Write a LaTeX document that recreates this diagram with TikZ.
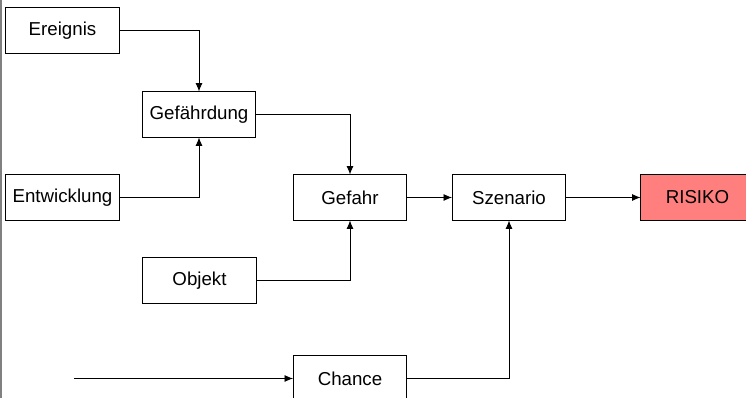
\documentclass[tikz,border=0pt]{standalone}
\usepackage{fontspec}
\setmainfont{Liberation Sans}
\usetikzlibrary{arrows.meta}
\definecolor{risikorot}{RGB}{255,127,127}

\begin{document}
\begin{tikzpicture}[x=0.025cm,y=-0.025cm,
	box/.style={draw,line width=0.7pt,minimum width=2.825cm,minimum height=1.125cm,inner sep=0pt,font=\fontsize{13.3}{15}\selectfont},
	fl/.style={draw,line width=0.6pt,-{Latex[length=6pt,width=5pt]}}]
	          %\draw[help lines] (0,0) grid (746,398);
	          \clip (0,0) rectangle (746,398);
	          \useasboundingbox (0,0) rectangle (746,398);
	          \draw[gray,line width=1pt] (1,0) -- (1,398);
	          \node[box] (Ereignis) at (62.5,30.5) {Ereignis};
	          \node[box] (Gefaehrdung) at (199,114.5) {Gefährdung};
	          \node[box] (Entwicklung) at (62.5,197.5) {Entwicklung};
	          \node[box] (Gefahr) at (350,197.5) {Gefahr};
	          \node[box] (Szenario) at (509,197.5) {Szenario};
	          \node[box,fill=risikorot] (Risiko) at (697.5,197.5) {RISIKO};
	          \node[box] (Objekt) at (199.5,280.5) {Objekt};
	          \node[box] (Chance) at (350,378.5) {Chance};
	          \coordinate (Start) at (74,378.5);
	          \draw[fl] (Ereignis) -| (Gefaehrdung);
	          \draw[fl] (Entwicklung) -| (Gefaehrdung);
	          \draw[fl] (Gefaehrdung) -| (Gefahr);
	          \draw[fl] (Objekt) -| (Gefahr);
	          \draw[fl] (Gefahr) -- (Szenario);
	          \draw[fl] (Szenario) -- (Risiko);
	          \draw[fl] (Chance) -| (Szenario);
	          \draw[fl] (Start) -- (Chance);
\end{tikzpicture}
\end{document}
